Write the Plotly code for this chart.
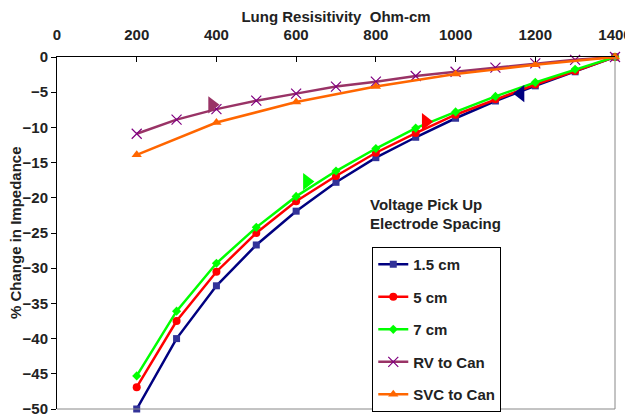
import plotly.graph_objects as go

resistivity = [200, 300, 400, 500, 600, 700, 800, 900, 1000, 1100, 1200, 1300, 1400]
cm_1_5 = [-50.0, -40.0, -32.5, -26.7, -21.9, -17.8, -14.3, -11.4, -8.7, -6.25, -4.1, -2.1, 0.0]
cm_5 = [-46.9, -37.5, -30.5, -25.0, -20.5, -16.9, -13.6, -10.8, -8.2, -6.0, -3.9, -2.0, 0.0]
cm_7 = [-45.3, -36.1, -29.3, -24.2, -19.8, -16.2, -13.0, -10.1, -7.8, -5.6, -3.6, -1.75, 0.0]
rv_to_can = [-10.9, -8.9, -7.4, -6.2, -5.2, -4.2, -3.5, -2.7, -2.1, -1.5, -0.9, -0.4, 0.0]
svc_x = [200, 400, 600, 800, 1000, 1200, 1400]
svc_to_can = [-13.9, -9.3, -6.4, -4.2, -2.4, -1.1, 0.0]

# arrow markers drawn on the curves
arrow_x = [389, 627, 925, 1163]
arrow_y = [-6.8, -17.7, -9.2, -5.2]
arrow_symbols = ["triangle-right", "triangle-right", "triangle-right", "triangle-left"]
arrow_colors = ["#993366", "#00FF00", "#FF0000", "#000080"]

FONT = "Liberation Sans, Arial, sans-serif"
FS = 15

fig = go.Figure()
series = [
    ("1.5 cm", resistivity, cm_1_5, "#000080", "#333399", "square", 7, None),
    ("5 cm", resistivity, cm_5, "#FF0000", "#FF0000", "circle", 8, None),
    ("7 cm", resistivity, cm_7, "#00FF00", "#00FF00", "diamond", 7, None),
    ("RV to Can", resistivity, rv_to_can, "#993366", "#800080", "x-thin", 10, 1.2),
    ("SVC to Can", svc_x, svc_to_can, "#FF6600", "#FF6600", "triangle-up", 9, None),
]
for name, xs, ys, lc, mc, sym, sz, mlw in series:
    marker = dict(symbol=sym, size=sz, color=mc)
    if mlw:
        marker["line"] = dict(width=mlw, color=mc)
    else:
        marker["line"] = dict(width=0)
    fig.add_trace(go.Scatter(x=xs, y=ys, mode="lines+markers", name=name,
                             line=dict(color=lc, width=2.5), marker=marker,
                             legendgroup=name, cliponaxis=False))

fig.add_trace(go.Scatter(x=arrow_x, y=arrow_y, mode="markers", showlegend=False,
                         marker=dict(symbol=arrow_symbols, size=15, color=arrow_colors,
                                     line=dict(width=0))))

for txt, yp in [("Voltage Pick Up", 0.582), ("Electrode Spacing", 0.528)]:
    fig.add_annotation(x=0.557, y=yp, xref="paper", yref="paper", xanchor="left", yanchor="middle",
                       text=txt, showarrow=False, align="left",
                       font=dict(family=FONT, size=FS, color="#222222", weight="bold"))

# y axis title as rotated text
fig.add_annotation(x=0, y=0.5, xref="paper", yref="paper", xanchor="center", yanchor="middle",
                   xshift=-42, text="% Change in Impedance", textangle=-90, showarrow=False,
                   font=dict(family=FONT, size=FS, color="#222222", weight="bold"))

# gray border on right and bottom
fig.add_shape(type="line", xref="paper", yref="paper", x0=1, x1=1, y0=0, y1=1,
              line=dict(color="#888888", width=1))
fig.add_shape(type="line", xref="paper", yref="paper", x0=0, x1=1, y0=0, y1=0,
              line=dict(color="#888888", width=1))

fig.update_layout(
    width=633, height=414,
    margin=dict(l=49, r=26, t=49, b=13, autoexpand=False),
    plot_bgcolor="white", paper_bgcolor="white",
    font=dict(family=FONT, size=FS, color="#222222"),
    legend=dict(x=0.565, y=0.46, xanchor="left", yanchor="top",
                bordercolor="black", borderwidth=1, bgcolor="white",
                font=dict(family=FONT, size=FS, color="#222222", weight="bold"),
                tracegroupgap=10, itemwidth=30),
    xaxis=dict(range=[0, 1400], side="top", tickvals=[0, 200, 400, 600, 800, 1000, 1200, 1400],
               automargin=False,
               showgrid=False, zeroline=False, showline=True, linecolor="black", linewidth=1,
               ticks="inside", ticklen=5, tickcolor="black", ticklabelstandoff=10,
               tickfont=dict(family=FONT, size=FS, weight="bold"),
               title=dict(text="Lung Resisitivity  Ohm-cm", standoff=2,
                          font=dict(family=FONT, size=FS, weight="bold"))),
    yaxis=dict(range=[-50, 0], tickvals=list(range(-50, 1, 5)),
               automargin=False,
               showgrid=False, zeroline=False, showline=True, linecolor="black", linewidth=1,
               ticks="outside", ticklen=5, tickcolor="black", ticklabelstandoff=0,
               tickfont=dict(family=FONT, size=FS, weight="bold")),
)

fig.write_html("out.html")
